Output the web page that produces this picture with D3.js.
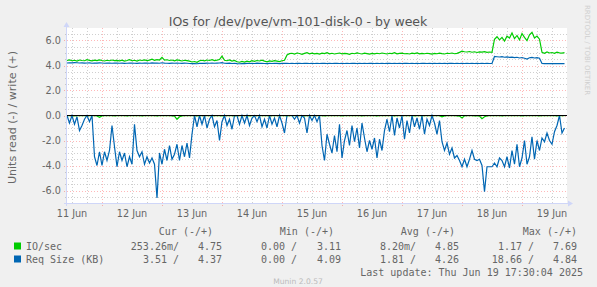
<!DOCTYPE html>
<html><head><meta charset="utf-8">
<script src="https://cdn.jsdelivr.net/npm/d3@7"></script>
<style>
html,body{margin:0;padding:0;background:#F0F0F0;}
svg{display:block;}
text{white-space:pre;}
</style></head>
<body>
<svg id="chart" width="597" height="287"></svg>
<script>
// ---------- DATA ----------
const title = "IOs for /dev/pve/vm-101-disk-0 - by week";
const yAxisLabel = "Units read (-) / write (+)";
const startTime = "2025-06-11T10:00:00Z";   // first sample
const stepHours = 1;
const yTicks = [-6, -4, -2, 0, 2, 4, 6];
const yTickLabels = ["-6.0", "-4.0", "-2.0", "0.0", "2.0", "4.0", "6.0"];
const dayLabels = ["11 Jun","12 Jun","13 Jun","14 Jun","15 Jun","16 Jun","17 Jun","18 Jun","19 Jun"];
const seriesNames = ["IO/sec", "Req Size (KB)"];
const seriesColors = ["#00CC00", "#0066B3"];

// IO/sec write (+)
const ioWrite = [
4.40,4.45,4.38,4.42,4.36,4.44,4.40,4.38,4.46,4.41,
4.37,4.43,4.39,4.45,4.40,4.36,4.42,4.38,4.44,4.39,
4.41,4.37,4.43,4.35,4.40,4.46,4.38,4.42,4.36,4.44,
4.40,4.45,4.39,4.43,4.50,4.42,4.47,4.44,4.65,4.43,
4.46,4.40,4.44,4.38,4.45,4.41,4.36,4.42,4.39,4.35,
4.28,4.32,4.25,4.38,4.42,4.37,4.44,4.40,4.46,4.39,
4.43,4.48,4.75,4.42,4.38,4.44,4.36,4.41,4.30,4.26,
4.33,4.28,4.35,4.30,4.38,4.33,4.40,4.36,4.42,4.35,
4.30,4.37,4.33,4.39,4.35,4.31,4.38,4.42,
4.85,4.95,4.98,4.92,5.00,4.96,4.90,4.97,5.02,4.94,4.99,4.93,
4.97,4.91,4.99,4.95,5.03,4.94,4.98,4.92,4.96,5.00,4.93,4.97,
4.95,4.90,4.98,4.94,5.01,4.96,4.92,4.99,4.95,4.91,4.97,4.93,
4.98,4.94,5.00,4.96,4.92,4.98,4.95,5.02,4.93,4.97,4.99,4.94,
4.96,4.92,4.99,4.95,5.00,4.93,4.97,4.94,4.98,4.95,4.91,4.97,
4.94,4.99,4.95,4.92,4.98,4.96,5.00,4.94,4.97,5.05,5.15,5.10,
5.08,5.12,5.06,5.10,5.04,5.09,5.07,5.11,5.05,5.08,5.06,
6.10,6.30,6.05,6.25,5.95,6.35,6.20,6.60,6.15,6.40,6.05,6.55,6.25,6.00,6.45,6.65,6.20,6.35,6.10,
5.05,4.98,5.08,5.00,5.04,4.97,5.06,5.01,4.99,5.03
];
// IO/sec read (-)
const ioRead = [
0.02,0.02,0.02,0.03,0.02,0.02,0.02,0.02,0.03,0.02,0.02,0.02,0.04,0.15,0.03,0.02,0.02,0.02,0.02,0.03,
0.02,0.02,0.02,0.02,0.03,0.02,0.02,0.02,0.02,0.02,0.03,0.02,0.02,0.02,0.02,0.02,0.03,0.02,0.02,0.02,
0.02,0.02,0.03,0.05,0.30,0.10,0.03,0.02,0.02,0.02,0.02,0.02,0.03,0.02,0.02,0.02,0.02,0.02,0.03,0.02,
0.02,0.02,0.03,0.02,0.02,0.02,0.02,0.03,0.02,0.02,0.02,0.02,0.02,0.03,0.02,0.02,0.02,0.02,0.02,0.02,
0.02,0.03,0.02,0.02,0.02,0.02,0.02,0.02,0.03,0.02,0.02,0.02,0.02,0.02,0.02,0.03,0.02,0.02,0.02,0.02,
0.02,0.02,0.02,0.03,0.02,0.02,0.02,0.02,0.02,0.02,0.03,0.02,0.02,0.02,0.02,0.02,0.02,0.02,0.03,0.02,
0.02,0.02,0.02,0.02,0.03,0.02,0.02,0.02,0.02,0.02,0.02,0.03,0.02,0.02,0.02,0.02,0.02,0.02,0.02,0.03,
0.02,0.02,0.03,0.02,0.02,0.02,0.02,0.02,0.02,0.02,0.10,0.03,0.02,0.02,0.02,0.02,0.03,0.05,0.20,0.03,
0.02,0.02,0.02,0.03,0.02,0.04,0.25,0.10,0.03,0.02,0.02,0.02,0.02,0.02,0.03,0.02,0.02,0.02,0.02,0.02,
0.02,0.02,0.03,0.02,0.02,0.02,0.02,0.02,0.02,0.03,0.02,0.02,0.02,0.02,0.02,0.02,0.03,0.02,0.02,0.02
];
// Req Size write (+)
const reqWrite = [
4.20,4.22,4.21,4.23,4.22,4.20,4.21,4.19,4.20,4.21,
4.18,4.20,4.19,4.21,4.20,4.18,4.19,4.20,4.18,4.19,
4.20,4.18,4.19,4.17,4.18,4.20,4.19,4.18,4.17,4.19,
4.18,4.20,4.19,4.18,4.21,4.19,4.20,4.18,4.22,4.19,
4.18,4.17,4.19,4.18,4.20,4.18,4.17,4.19,4.18,4.16,
4.15,4.16,4.14,4.17,4.18,4.17,4.19,4.18,4.20,4.18,
4.19,4.20,4.23,4.18,4.17,4.19,4.16,4.18,4.15,4.14,
4.16,4.15,4.17,4.16,4.18,4.16,4.19,4.17,4.18,4.16,
4.15,4.17,4.16,4.18,4.17,4.15,4.17,4.18,4.17,4.16,
4.17,4.16,4.18,4.17,4.16,4.17,4.18,4.16,4.17,4.16,
4.17,4.16,4.17,4.18,4.16,4.17,4.16,4.17,4.18,4.16,
4.17,4.16,4.17,4.16,4.18,4.17,4.16,4.17,4.16,4.17,
4.16,4.17,4.18,4.16,4.17,4.16,4.17,4.16,4.17,4.18,
4.16,4.17,4.16,4.17,4.16,4.18,4.17,4.16,4.17,4.16,
4.17,4.16,4.17,4.18,4.16,4.17,4.16,4.17,4.16,4.17,
4.16,4.17,4.16,4.17,4.18,4.16,4.17,4.16,4.17,4.16,
4.17,4.16,4.17,4.16,4.17,4.16,4.17,4.16,4.17,4.16,4.17,
4.72,4.70,4.68,4.71,4.66,4.69,4.65,4.67,4.63,4.66,4.60,4.64,4.58,4.52,4.62,4.65,4.60,4.63,4.58,
4.16,4.15,4.16,4.15,4.16,4.15,4.16,4.15,4.16,4.15
];
// Req Size read (-)
const reqRead = [
0,0.6,0,0.7,0.1,1.2,0.8,0.3,0,0.5,
0,3.3,4.0,2.9,4.0,2.9,3.6,2.8,0.8,2.5,
4.1,2.9,3.6,3.0,4.1,3.3,3.9,0.7,2.8,3.3,
2.9,3.9,3.3,3.8,3.4,3.9,6.6,3.0,3.9,2.7,
3.6,2.4,3.5,3.1,2.3,3.6,2.4,3.3,2.2,3.4,
1.5,0,0.9,0,0.7,0,1.0,0.3,0,0.9,
0.4,2.0,0.5,0,0.8,0.3,1.1,0,0,0.7,
0,0.6,0,0.8,0.2,0,0.5,0,0.9,0.3,
1.0,0,0.7,0.2,0.9,0,0.6,1.4,0,0,
0,0.3,0,0.6,0,0.2,1.4,0,0.4,0,
0.5,0,2.4,3.6,1.5,2.3,3.0,1.6,2.9,0.7,
3.4,2.0,1.2,2.4,0.8,2.1,1.0,2.6,0.6,1.8,
2.9,2.0,2.7,1.8,3.4,1.9,2.8,1.2,0.3,1.3,
0,1.6,0.2,1.0,0,1.9,0.4,1.4,0,0.9,
0.2,1.1,0,1.5,0.3,0.8,0,0.6,1.5,0.4,
2.1,2.8,2.2,3.1,2.6,3.4,3.2,3.6,4.1,3.5,
4.1,3.5,2.8,3.5,3.6,3.5,4.0,6.1,4.1,4.1,
4.1,3.8,4.1,3.4,3.6,4.1,3.3,4.2,2.8,3.9,
2.3,4.1,3.4,2.0,3.9,3.3,1.7,3.5,2.0,2.8,
1.8,2.1,1.4,2.0,2.3,1.3,0.8,0,1.4,1.0
];

const legendHeaders = ["Cur (-/+)", "Min (-/+)", "Avg (-/+)", "Max (-/+)"];
const legendRead = [["253.26m", "0.00 ", "8.20m", "1.17 "], ["3.51 ", "0.00 ", "1.81 ", "18.66 "]];
const legendWrite = [["4.75", "3.11", "4.85", "7.69"], ["4.37", "4.09", "4.26", "4.84"]];
const lastUpdate = "Last update: Thu Jun 19 17:30:04 2025";
const watermark = "Munin 2.0.57";
const sideText = "RRDTOOL / TOBI OETIKER";

// ---------- DRAW ----------
const svg = d3.select("#chart");
const L = 67, R = 567, T = 28, B = 203;
const t0 = new Date(startTime).getTime();
const stepMs = stepHours * 3600e3;
const x = d3.scaleUtc().domain([new Date(t0), new Date(t0 + 200 * stepMs)]).range([L, R]);
const y = d3.scaleLinear().domain([-7, 7]).range([B, T]);
const px = v => Math.round(v) + 0.5;
const sans = "DejaVu Sans, sans-serif";
const mono = "DejaVu Sans Mono, monospace";
const fontCol = "#666666";

svg.append("rect").attr("width", 597).attr("height", 287).attr("fill", "#F0F0F0");
svg.append("rect").attr("x", L).attr("y", T).attr("width", R - L).attr("height", B - T).attr("fill", "#FFFFFF");

const grid = svg.append("g");
const majorCol = "rgba(255,0,0,0.28)", minorCol = "rgba(128,128,128,0.38)";
const dom = x.domain();
const days = d3.utcDay.range(dom[0], dom[1]);
const sixH = d3.utcHour.every(6).range(dom[0], dom[1]).filter(d => d.getUTCHours() !== 0);
// minor verticals
sixH.forEach(d => {
  grid.append("line").attr("x1", px(x(d))).attr("x2", px(x(d))).attr("y1", T).attr("y2", B + 2)
    .attr("stroke", minorCol).attr("stroke-dasharray", "1,2");
});
// minor horizontals
d3.range(-6.5, 7, 0.5).filter(v => Math.abs(v % 2) !== 0).forEach(v => {
  grid.append("line").attr("x1", L - 2).attr("x2", R).attr("y1", px(y(v))).attr("y2", px(y(v)))
    .attr("stroke", minorCol).attr("stroke-dasharray", "1,2");
});
// major verticals
days.forEach(d => {
  grid.append("line").attr("x1", px(x(d))).attr("x2", px(x(d))).attr("y1", T).attr("y2", B + 3)
    .attr("stroke", majorCol).attr("stroke-dasharray", "1,2");
});
// major horizontals
yTicks.forEach(v => {
  grid.append("line").attr("x1", L - 3).attr("x2", R).attr("y1", px(y(v))).attr("y2", px(y(v)))
    .attr("stroke", majorCol).attr("stroke-dasharray", "1,2");
});

// y tick labels
yTicks.forEach((v, i) => {
  svg.append("text").attr("x", 61).attr("y", y(v) + 3.5).attr("text-anchor", "end")
    .attr("font-family", sans).attr("font-size", 9.7).attr("fill", fontCol).text(yTickLabels[i]);
});
// x labels at noon
days.concat([d3.utcDay.floor(dom[0])]).sort((a,b)=>a-b).forEach(d => {
  const noon = new Date(d.getTime() + 12 * 3600e3);
  const lbl = d3.utcFormat("%d %b")(noon).replace(/^0/, "");
  if (dayLabels.includes(lbl) && x(noon) > L && x(noon) < R) {
    svg.append("text").attr("x", x(noon)).attr("y", 217).attr("text-anchor", "middle")
      .attr("font-family", sans).attr("font-size", 9.7).attr("fill", fontCol).text(lbl);
  }
});

// series
const tOf = i => new Date(t0 + i * stepMs);
const linePos = d3.line().x((d, i) => x(tOf(i))).y(d => y(d));
const lineNeg = d3.line().x((d, i) => x(tOf(i))).y(d => y(-d));
const plot = svg.append("g");
plot.append("path").attr("d", lineNeg(ioRead)).attr("fill", "none").attr("stroke", seriesColors[0]).attr("stroke-width", 1.2);
plot.append("path").attr("d", linePos(ioWrite)).attr("fill", "none").attr("stroke", seriesColors[0]).attr("stroke-width", 1.2);
plot.append("path").attr("d", lineNeg(reqRead)).attr("fill", "none").attr("stroke", seriesColors[1]).attr("stroke-width", 1.2);
plot.append("path").attr("d", linePos(reqWrite)).attr("fill", "none").attr("stroke", seriesColors[1]).attr("stroke-width", 1.2);
// zero rule
svg.append("line").attr("x1", L).attr("x2", R).attr("y1", px(y(0)) - 1).attr("y2", px(y(0)) - 1)
  .attr("stroke", "#000").attr("stroke-width", 1);

// axes
const axisCol = "#CFD6F8";
svg.append("line").attr("x1", L - 0.5).attr("x2", L - 0.5).attr("y1", B + 3).attr("y2", T - 2).attr("stroke", axisCol);
svg.append("path").attr("d", `M${L-3.5},${T-1} L${L+2.5},${T-1} L${L-0.5},${T-6} Z`).attr("fill", axisCol);
svg.append("line").attr("x1", L - 3).attr("x2", R + 2).attr("y1", B + 0.5).attr("y2", B + 0.5).attr("stroke", axisCol);
svg.append("path").attr("d", `M${R+1},${B-2.5} L${R+1},${B+3.5} L${R+6},${B+0.5} Z`).attr("fill", axisCol);

// title & labels
svg.append("text").attr("x", 298).attr("y", 26).attr("text-anchor", "middle")
  .attr("font-family", sans).attr("font-size", 12.5).attr("fill", "#555").text(title);
svg.append("text").attr("transform", `translate(16,${(T + B) / 2 + 2}) rotate(-90)`).attr("text-anchor", "middle")
  .attr("font-family", sans).attr("font-size", 11.1).attr("fill", fontCol).text(yAxisLabel);
svg.append("text").attr("transform", "translate(585,5) rotate(90)").attr("text-anchor", "start")
  .attr("font-family", sans).attr("font-size", 7).attr("fill", "#cfcfcf").text(sideText);

// legend
const readEnds = [179, 297, 416, 534];
const writeEnds = [222, 341, 459, 577];
const headEnds = [213, 334, 455, 577];
const rowY = [250, 263];
legendHeaders.forEach((h, i) => {
  svg.append("text").attr("x", headEnds[i]).attr("y", 235).attr("text-anchor", "end")
    .attr("font-family", mono).attr("font-size", 10).attr("fill", fontCol).text(h);
});
seriesNames.forEach((n, r) => {
  svg.append("rect").attr("x", 14).attr("y", rowY[r] - 7.5).attr("width", 7).attr("height", 7).attr("fill", seriesColors[r]);
  svg.append("text").attr("x", 26).attr("y", rowY[r]).attr("font-family", mono).attr("font-size", 10).attr("fill", fontCol).text(n);
  legendRead[r].forEach((v, i) => {
    svg.append("text").attr("x", readEnds[i]).attr("y", rowY[r]).attr("text-anchor", "end")
      .attr("font-family", mono).attr("font-size", 10).attr("fill", fontCol).text(v + "/");
    svg.append("text").attr("x", writeEnds[i]).attr("y", rowY[r]).attr("text-anchor", "end")
      .attr("font-family", mono).attr("font-size", 10).attr("fill", fontCol).text(legendWrite[r][i]);
  });
});
svg.append("text").attr("x", 583).attr("y", 276).attr("text-anchor", "end")
  .attr("font-family", mono).attr("font-size", 10).attr("fill", fontCol).text(lastUpdate);
svg.append("text").attr("x", 298).attr("y", 284).attr("text-anchor", "middle")
  .attr("font-family", sans).attr("font-size", 7.6).attr("fill", "#bbbbbb").text(watermark);
</script>
</body></html>
